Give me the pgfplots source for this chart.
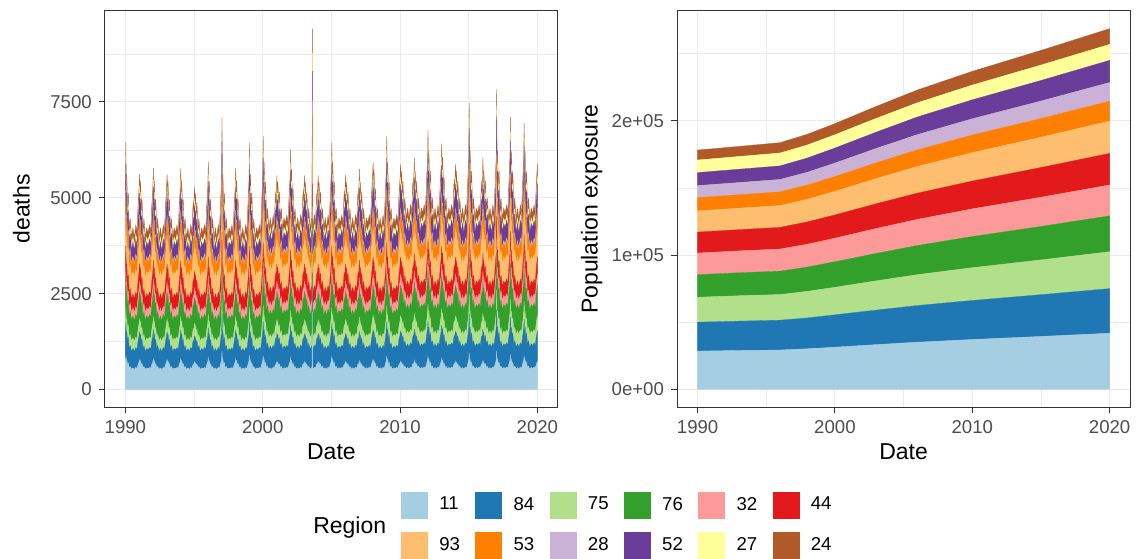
\documentclass[border=0pt]{standalone}
\usepackage{fontspec}
\setmainfont{Liberation Sans}
\usepackage{pgfplots}
\usepackage{pgfplotstable}
\pgfplotsset{compat=1.18}
\definecolor{c11}{HTML}{A6CEE3}
\definecolor{c84}{HTML}{1F78B4}
\definecolor{c75}{HTML}{B2DF8A}
\definecolor{c76}{HTML}{33A02C}
\definecolor{c32}{HTML}{FB9A99}
\definecolor{c44}{HTML}{E31A1C}
\definecolor{c93}{HTML}{FDBF6F}
\definecolor{c53}{HTML}{FF7F00}
\definecolor{c28}{HTML}{CAB2D6}
\definecolor{c52}{HTML}{6A3D9A}
\definecolor{c27}{HTML}{FFFF99}
\definecolor{c24}{HTML}{B15928}
\definecolor{gridc}{HTML}{EBEBEB}
\definecolor{tickgray}{HTML}{4D4D4D}
\definecolor{framec}{HTML}{333333}

\pgfplotstableread{
t a11 a84 a75 a76 a32 a44 a93 a53 a28 a52 a27 a24
1990.000 750 708 332 693 250 453 717 440 78 556 173 301
1990.035 900 870 377 792 280 522 825 530 90 697 212 352
1990.070 700 654 317 660 240 430 681 410 74 509 160 284
1990.100 775 735 340 710 255 465 735 455 80 580 180 310
1990.160 650 600 303 628 230 408 645 380 70 463 148 268
1990.210 700 654 317 660 240 430 681 410 74 509 160 284
1990.280 563 506 276 570 213 367 582 328 63 380 125 238
1990.350 600 546 288 595 220 385 609 350 66 416 135 251
1990.450 525 465 265 545 205 350 555 305 60 345 115 225
1990.550 563 506 276 570 213 367 582 328 63 380 125 238
1990.650 525 465 265 545 205 350 555 305 60 345 115 225
1990.760 575 519 280 578 215 373 591 335 64 392 128 242
1990.840 545 487 271 558 209 359 569 317 62 364 120 232
1990.920 650 600 303 628 230 408 645 380 70 463 148 268
1991.000 725 681 325 677 245 442 699 425 76 533 167 293
1991.035 775 735 340 710 255 465 735 455 80 580 180 310
1991.070 675 627 310 644 235 419 663 395 72 486 154 276
1991.100 750 708 332 693 250 453 717 440 78 556 173 301
1991.160 650 600 303 628 230 408 645 380 70 463 148 268
1991.210 675 627 310 644 235 419 663 395 72 486 154 276
1991.280 563 506 276 570 213 367 582 328 63 380 125 238
1991.350 600 546 288 595 220 385 609 350 66 416 135 251
1991.450 525 465 265 545 205 350 555 305 60 345 115 225
1991.550 563 506 276 570 213 367 582 328 63 380 125 238
1991.650 545 487 271 558 209 359 569 317 62 364 120 232
1991.760 575 519 280 578 215 373 591 335 64 392 128 242
1991.840 545 487 271 558 209 359 569 317 62 364 120 232
1991.920 650 600 303 628 230 408 645 380 70 463 148 268
1992.000 725 681 325 677 245 442 699 425 76 533 167 293
1992.035 800 762 347 726 260 476 753 470 82 603 186 318
1992.070 675 627 310 644 235 419 663 395 72 486 154 276
1992.100 750 708 332 693 250 453 717 440 78 556 173 301
1992.160 650 600 303 628 230 408 645 380 70 463 148 268
1992.210 675 627 310 644 235 419 663 395 72 486 154 276
1992.280 563 506 276 570 213 367 582 328 63 380 125 238
1992.350 600 546 288 595 220 385 609 350 66 416 135 251
1992.450 525 465 265 545 205 350 555 305 60 345 115 225
1992.550 563 506 276 570 213 367 582 328 63 380 125 238
1992.650 525 465 265 545 205 350 555 305 60 345 115 225
1992.760 575 519 280 578 215 373 591 335 64 392 128 242
1992.840 545 487 271 558 209 359 569 317 62 364 120 232
1992.920 650 600 303 628 230 408 645 380 70 463 148 268
1993.000 725 681 325 677 245 442 699 425 76 533 167 293
1993.035 775 735 340 710 255 465 735 455 80 580 180 310
1993.070 675 627 310 644 235 419 663 395 72 486 154 276
1993.100 750 708 332 693 250 453 717 440 78 556 173 301
1993.160 650 600 303 628 230 408 645 380 70 463 148 268
1993.210 675 627 310 644 235 419 663 395 72 486 154 276
1993.280 563 506 276 570 213 367 582 328 63 380 125 238
1993.350 600 546 288 595 220 385 609 350 66 416 135 251
1993.450 525 465 265 545 205 350 555 305 60 345 115 225
1993.550 563 506 276 570 213 367 582 328 63 380 125 238
1993.650 545 487 271 558 209 359 569 317 62 364 120 232
1993.760 575 519 280 578 215 373 591 335 64 392 128 242
1993.840 545 487 271 558 209 359 569 317 62 364 120 232
1993.920 650 600 303 628 230 408 645 380 70 463 148 268
1994.000 725 681 325 677 245 442 699 425 76 533 167 293
1994.035 800 762 347 726 260 476 753 470 82 603 186 318
1994.070 675 627 310 644 235 419 663 395 72 486 154 276
1994.100 750 708 332 693 250 453 717 440 78 556 173 301
1994.160 650 600 303 628 230 408 645 380 70 463 148 268
1994.210 675 627 310 644 235 419 663 395 72 486 154 276
1994.280 563 506 276 570 213 367 582 328 63 380 125 238
1994.350 600 546 288 595 220 385 609 350 66 416 135 251
1994.450 525 465 265 545 205 350 555 305 60 345 115 225
1994.550 563 506 276 570 213 367 582 328 63 380 125 238
1994.650 525 465 265 545 205 350 555 305 60 345 115 225
1994.760 575 519 280 578 215 373 591 335 64 392 128 242
1994.840 545 487 271 558 209 359 569 317 62 364 120 232
1994.920 650 600 303 628 230 408 645 380 70 463 148 268
1995.000 675 627 310 644 235 419 663 395 72 486 154 276
1995.035 725 681 325 677 245 442 699 425 76 533 167 293
1995.070 650 600 303 628 230 408 645 380 70 463 148 268
1995.100 700 654 317 660 240 430 681 410 74 509 160 284
1995.160 625 573 295 611 225 396 627 365 68 439 141 259
1995.210 662 613 306 636 232 413 654 387 71 474 151 272
1995.280 563 506 276 570 213 367 582 328 63 380 125 238
1995.350 600 546 288 595 220 385 609 350 66 416 135 251
1995.450 525 465 265 545 205 350 555 305 60 345 115 225
1995.550 563 506 276 570 213 367 582 328 63 380 125 238
1995.650 545 487 271 558 209 359 569 317 62 364 120 232
1995.760 575 519 280 578 215 373 591 335 64 392 128 242
1995.840 545 487 271 558 209 359 569 317 62 364 120 232
1995.920 650 600 303 628 230 408 645 380 70 463 148 268
1996.000 725 681 325 677 245 442 699 425 76 533 167 293
1996.035 825 789 355 743 265 488 771 485 84 627 193 327
1996.070 675 627 310 644 235 419 663 395 72 486 154 276
1996.100 750 708 332 693 250 453 717 440 78 556 173 301
1996.160 650 600 303 628 230 408 645 380 70 463 148 268
1996.210 675 627 310 644 235 419 663 395 72 486 154 276
1996.280 563 506 276 570 213 367 582 328 63 380 125 238
1996.350 600 546 288 595 220 385 609 350 66 416 135 251
1996.450 525 465 265 545 205 350 555 305 60 345 115 225
1996.550 563 506 276 570 213 367 582 328 63 380 125 238
1996.650 525 465 265 545 205 350 555 305 60 345 115 225
1996.760 575 519 280 578 215 373 591 335 64 392 128 242
1996.840 545 487 271 558 209 359 569 317 62 364 120 232
1996.920 650 600 303 628 230 408 645 380 70 463 148 268
1997.000 750 708 332 693 250 453 717 440 78 556 173 301
1997.035 1000 978 407 858 300 568 897 590 98 791 238 386
1997.070 700 654 317 660 240 430 681 410 74 509 160 284
1997.100 775 735 340 710 255 465 735 455 80 580 180 310
1997.160 650 600 303 628 230 408 645 380 70 463 148 268
1997.210 700 654 317 660 240 430 681 410 74 509 160 284
1997.280 563 506 276 570 213 367 582 328 63 380 125 238
1997.350 600 546 288 595 220 385 609 350 66 416 135 251
1997.450 525 465 265 545 205 350 555 305 60 345 115 225
1997.550 563 506 276 570 213 367 582 328 63 380 125 238
1997.650 545 487 271 558 209 359 569 317 62 364 120 232
1997.760 575 519 280 578 215 373 591 335 64 392 128 242
1997.840 545 487 271 558 209 359 569 317 62 364 120 232
1997.920 650 600 303 628 230 408 645 380 70 463 148 268
1998.000 725 681 325 677 245 442 699 425 76 533 167 293
1998.035 800 762 347 726 260 476 753 470 82 603 186 318
1998.070 675 627 310 644 235 419 663 395 72 486 154 276
1998.100 750 708 332 693 250 453 717 440 78 556 173 301
1998.160 650 600 303 628 230 408 645 380 70 463 148 268
1998.210 675 627 310 644 235 419 663 395 72 486 154 276
1998.280 563 506 276 570 213 367 582 328 63 380 125 238
1998.350 600 546 288 595 220 385 609 350 66 416 135 251
1998.450 525 465 265 545 205 350 555 305 60 345 115 225
1998.550 563 506 276 570 213 367 582 328 63 380 125 238
1998.650 525 465 265 545 205 350 555 305 60 345 115 225
1998.760 575 519 280 578 215 373 591 335 64 392 128 242
1998.840 545 487 271 558 209 359 569 317 62 364 120 232
1998.920 650 600 303 628 230 408 645 380 70 463 148 268
1999.000 750 708 332 693 250 453 717 440 78 556 173 301
1999.035 900 870 377 792 280 522 825 530 90 697 212 352
1999.070 700 654 317 660 240 430 681 410 74 509 160 284
1999.100 775 735 340 710 255 465 735 455 80 580 180 310
1999.160 650 600 303 628 230 408 645 380 70 463 148 268
1999.210 700 654 317 660 240 430 681 410 74 509 160 284
1999.280 563 506 276 570 213 367 582 328 63 380 125 238
1999.350 600 546 288 595 220 385 609 350 66 416 135 251
1999.450 525 465 265 545 205 350 555 305 60 345 115 225
1999.550 563 506 276 570 213 367 582 328 63 380 125 238
1999.650 545 487 271 558 209 359 569 317 62 364 120 232
1999.760 575 519 280 578 215 373 591 335 64 392 128 242
1999.840 545 487 271 558 209 359 569 317 62 364 120 232
1999.920 650 600 303 628 230 408 645 380 70 463 148 268
2000.000 755 763 372 758 270 454 742 450 83 609 183 316
2000.035 880 898 414 845 297 509 832 525 93 739 218 361
2000.070 705 709 355 723 259 432 706 420 79 557 169 298
2000.100 780 790 380 775 275 465 760 465 85 635 190 325
2000.160 655 655 338 688 248 410 670 390 75 505 155 280
2000.210 705 709 355 723 259 432 706 420 79 557 169 298
2000.280 568 561 308 626 228 372 607 338 68 414 131 249
2000.350 605 601 321 653 237 388 634 360 71 453 141 262
2000.450 530 520 295 600 220 355 580 315 65 375 120 235
2000.550 568 561 308 626 228 372 607 338 68 414 131 249
2000.650 530 520 295 600 220 355 580 315 65 375 120 235
2000.760 580 574 312 635 231 377 616 345 69 427 134 253
2000.840 550 542 302 614 224 364 594 327 67 396 126 242
2000.920 655 655 338 688 248 410 670 390 75 505 155 280
2001.000 680 682 346 705 253 421 688 405 77 531 162 289
2001.035 730 736 363 740 264 443 724 435 81 583 176 307
2001.070 655 655 338 688 248 410 670 390 75 505 155 280
2001.100 705 709 355 723 259 432 706 420 79 557 169 298
2001.160 630 628 329 670 242 399 652 375 73 479 148 271
2001.210 668 669 342 696 250 416 679 398 76 518 159 285
2001.280 568 561 308 626 228 372 607 338 68 414 131 249
2001.350 605 601 321 653 237 388 634 360 71 453 141 262
2001.450 530 520 295 600 220 355 580 315 65 375 120 235
2001.550 568 561 308 626 228 372 607 338 68 414 131 249
2001.650 550 542 302 614 224 364 594 327 67 396 126 242
2001.760 580 574 312 635 231 377 616 345 69 427 134 253
2001.840 550 542 302 614 224 364 594 327 67 396 126 242
2001.920 655 655 338 688 248 410 670 390 75 505 155 280
2002.000 730 736 363 740 264 443 724 435 81 583 176 307
2002.035 830 844 397 810 286 487 796 495 89 687 204 343
2002.070 680 682 346 705 253 421 688 405 77 531 162 289
2002.100 755 763 372 758 270 454 742 450 83 609 183 316
2002.160 655 655 338 688 248 410 670 390 75 505 155 280
2002.210 680 682 346 705 253 421 688 405 77 531 162 289
2002.280 568 561 308 626 228 372 607 338 68 414 131 249
2002.350 605 601 321 653 237 388 634 360 71 453 141 262
2002.450 530 520 295 600 220 355 580 315 65 375 120 235
2002.550 568 561 308 626 228 372 607 338 68 414 131 249
2002.650 530 520 295 600 220 355 580 315 65 375 120 235
2002.760 580 574 312 635 231 377 616 345 69 427 134 253
2002.840 550 542 302 614 224 364 594 327 67 396 126 242
2002.920 655 655 338 688 248 410 670 390 75 505 155 280
2003.000 680 682 346 705 253 421 688 405 77 531 162 289
2003.035 730 736 363 740 264 443 724 435 81 583 176 307
2003.070 655 655 338 688 248 410 670 390 75 505 155 280
2003.100 705 709 355 723 259 432 706 420 79 557 169 298
2003.160 630 628 329 670 242 399 652 375 73 479 148 271
2003.210 668 669 342 696 250 416 679 398 76 518 159 285
2003.280 568 561 308 626 228 372 607 338 68 414 131 249
2003.350 605 601 321 653 237 388 634 360 71 453 141 262
2003.450 530 520 295 600 220 355 580 315 65 375 120 235
2003.550 568 561 308 626 228 372 607 338 68 414 131 249
2003.585 530 520 295 600 220 355 580 315 65 375 120 235
2003.615 2030 1020 495 900 320 605 880 915 365 775 470 635
2003.645 530 520 295 600 220 355 580 315 65 375 120 235
2003.760 580 574 312 635 231 377 616 345 69 427 134 253
2003.840 550 542 302 614 224 364 594 327 67 396 126 242
2003.920 655 655 338 688 248 410 670 390 75 505 155 280
2004.000 680 682 346 705 253 421 688 405 77 531 162 289
2004.035 730 736 363 740 264 443 724 435 81 583 176 307
2004.070 655 655 338 688 248 410 670 390 75 505 155 280
2004.100 705 709 355 723 259 432 706 420 79 557 169 298
2004.160 630 628 329 670 242 399 652 375 73 479 148 271
2004.210 668 669 342 696 250 416 679 398 76 518 159 285
2004.280 568 561 308 626 228 372 607 338 68 414 131 249
2004.350 605 601 321 653 237 388 634 360 71 453 141 262
2004.450 530 520 295 600 220 355 580 315 65 375 120 235
2004.550 568 561 308 626 228 372 607 338 68 414 131 249
2004.650 530 520 295 600 220 355 580 315 65 375 120 235
2004.760 580 574 312 635 231 377 616 345 69 427 134 253
2004.840 550 542 302 614 224 364 594 327 67 396 126 242
2004.920 655 655 338 688 248 410 670 390 75 505 155 280
2005.000 755 763 372 758 270 454 742 450 83 609 183 316
2005.035 855 871 406 828 292 498 814 510 91 713 211 352
2005.070 705 709 355 723 259 432 706 420 79 557 169 298
2005.100 780 790 380 775 275 465 760 465 85 635 190 325
2005.160 655 655 338 688 248 410 670 390 75 505 155 280
2005.210 705 709 355 723 259 432 706 420 79 557 169 298
2005.280 568 561 308 626 228 372 607 338 68 414 131 249
2005.350 605 601 321 653 237 388 634 360 71 453 141 262
2005.450 530 520 295 600 220 355 580 315 65 375 120 235
2005.550 568 561 308 626 228 372 607 338 68 414 131 249
2005.650 550 542 302 614 224 364 594 327 67 396 126 242
2005.760 580 574 312 635 231 377 616 345 69 427 134 253
2005.840 550 542 302 614 224 364 594 327 67 396 126 242
2005.920 655 655 338 688 248 410 670 390 75 505 155 280
2006.000 680 682 346 705 253 421 688 405 77 531 162 289
2006.035 730 736 363 740 264 443 724 435 81 583 176 307
2006.070 655 655 338 688 248 410 670 390 75 505 155 280
2006.100 705 709 355 723 259 432 706 420 79 557 169 298
2006.160 630 628 329 670 242 399 652 375 73 479 148 271
2006.210 668 669 342 696 250 416 679 398 76 518 159 285
2006.280 568 561 308 626 228 372 607 338 68 414 131 249
2006.350 605 601 321 653 237 388 634 360 71 453 141 262
2006.450 530 520 295 600 220 355 580 315 65 375 120 235
2006.550 568 561 308 626 228 372 607 338 68 414 131 249
2006.650 530 520 295 600 220 355 580 315 65 375 120 235
2006.760 580 574 312 635 231 377 616 345 69 427 134 253
2006.840 550 542 302 614 224 364 594 327 67 396 126 242
2006.920 655 655 338 688 248 410 670 390 75 505 155 280
2007.000 680 682 346 705 253 421 688 405 77 531 162 289
2007.035 755 763 372 758 270 454 742 450 83 609 183 316
2007.070 655 655 338 688 248 410 670 390 75 505 155 280
2007.100 705 709 355 723 259 432 706 420 79 557 169 298
2007.160 630 628 329 670 242 399 652 375 73 479 148 271
2007.210 668 669 342 696 250 416 679 398 76 518 159 285
2007.280 568 561 308 626 228 372 607 338 68 414 131 249
2007.350 605 601 321 653 237 388 634 360 71 453 141 262
2007.450 530 520 295 600 220 355 580 315 65 375 120 235
2007.550 568 561 308 626 228 372 607 338 68 414 131 249
2007.650 550 542 302 614 224 364 594 327 67 396 126 242
2007.760 580 574 312 635 231 377 616 345 69 427 134 253
2007.840 550 542 302 614 224 364 594 327 67 396 126 242
2007.920 655 655 338 688 248 410 670 390 75 505 155 280
2008.000 730 736 363 740 264 443 724 435 81 583 176 307
2008.035 780 790 380 775 275 465 760 465 85 635 190 325
2008.070 680 682 346 705 253 421 688 405 77 531 162 289
2008.100 755 763 372 758 270 454 742 450 83 609 183 316
2008.160 655 655 338 688 248 410 670 390 75 505 155 280
2008.210 680 682 346 705 253 421 688 405 77 531 162 289
2008.280 568 561 308 626 228 372 607 338 68 414 131 249
2008.350 605 601 321 653 237 388 634 360 71 453 141 262
2008.450 530 520 295 600 220 355 580 315 65 375 120 235
2008.550 568 561 308 626 228 372 607 338 68 414 131 249
2008.650 530 520 295 600 220 355 580 315 65 375 120 235
2008.760 580 574 312 635 231 377 616 345 69 427 134 253
2008.840 550 542 302 614 224 364 594 327 67 396 126 242
2008.920 655 655 338 688 248 410 670 390 75 505 155 280
2009.000 755 763 372 758 270 454 742 450 83 609 183 316
2009.035 880 898 414 845 297 509 832 525 93 739 218 361
2009.070 705 709 355 723 259 432 706 420 79 557 169 298
2009.100 780 790 380 775 275 465 760 465 85 635 190 325
2009.160 655 655 338 688 248 410 670 390 75 505 155 280
2009.210 705 709 355 723 259 432 706 420 79 557 169 298
2009.280 568 561 308 626 228 372 607 338 68 414 131 249
2009.350 605 601 321 653 237 388 634 360 71 453 141 262
2009.450 530 520 295 600 220 355 580 315 65 375 120 235
2009.550 568 561 308 626 228 372 607 338 68 414 131 249
2009.650 550 542 302 614 224 364 594 327 67 396 126 242
2009.760 580 574 312 635 231 377 616 345 69 427 134 253
2009.840 550 542 302 614 224 364 594 327 67 396 126 242
2009.920 655 655 338 688 248 410 670 390 75 505 155 280
2010.000 685 737 382 766 271 423 713 415 82 576 170 302
2010.035 735 791 401 803 283 444 749 445 86 633 185 321
2010.070 660 710 373 748 265 413 695 400 80 548 163 293
2010.100 710 764 392 785 277 434 731 430 84 605 178 312
2010.160 635 683 363 729 259 402 677 385 78 519 155 283
2010.210 673 724 377 757 268 418 704 408 81 562 166 297
2010.280 573 616 339 683 244 376 632 348 73 448 136 259
2010.350 610 656 354 711 253 392 659 370 76 491 148 274
2010.450 535 575 325 655 235 360 605 325 70 405 125 245
2010.550 573 616 339 683 244 376 632 348 73 448 136 259
2010.650 535 575 325 655 235 360 605 325 70 405 125 245
2010.760 585 629 344 692 247 381 641 355 74 462 140 264
2010.840 555 597 333 670 240 368 619 337 72 428 131 253
2010.920 660 710 373 748 265 413 695 400 80 548 163 293
2011.000 685 737 382 766 271 423 713 415 82 576 170 302
2011.035 760 818 411 822 289 455 767 460 88 662 193 331
2011.070 660 710 373 748 265 413 695 400 80 548 163 293
2011.100 710 764 392 785 277 434 731 430 84 605 178 312
2011.160 635 683 363 729 259 402 677 385 78 519 155 283
2011.210 673 724 377 757 268 418 704 408 81 562 166 297
2011.280 573 616 339 683 244 376 632 348 73 448 136 259
2011.350 610 656 354 711 253 392 659 370 76 491 148 274
2011.450 535 575 325 655 235 360 605 325 70 405 125 245
2011.550 573 616 339 683 244 376 632 348 73 448 136 259
2011.650 555 597 333 670 240 368 619 337 72 428 131 253
2011.760 585 629 344 692 247 381 641 355 74 462 140 264
2011.840 555 597 333 670 240 368 619 337 72 428 131 253
2011.920 660 710 373 748 265 413 695 400 80 548 163 293
2012.000 760 818 411 822 289 455 767 460 88 662 193 331
2012.035 860 926 449 896 313 497 839 520 96 776 223 369
2012.070 710 764 392 785 277 434 731 430 84 605 178 312
2012.100 785 845 420 840 295 465 785 475 90 690 200 340
2012.160 660 710 373 748 265 413 695 400 80 548 163 293
2012.210 710 764 392 785 277 434 731 430 84 605 178 312
2012.280 573 616 339 683 244 376 632 348 73 448 136 259
2012.350 610 656 354 711 253 392 659 370 76 491 148 274
2012.450 535 575 325 655 235 360 605 325 70 405 125 245
2012.550 573 616 339 683 244 376 632 348 73 448 136 259
2012.650 535 575 325 655 235 360 605 325 70 405 125 245
2012.760 585 629 344 692 247 381 641 355 74 462 140 264
2012.840 555 597 333 670 240 368 619 337 72 428 131 253
2012.920 660 710 373 748 265 413 695 400 80 548 163 293
2013.000 735 791 401 803 283 444 749 445 86 633 185 321
2013.035 810 872 430 859 301 476 803 490 92 719 208 350
2013.070 685 737 382 766 271 423 713 415 82 576 170 302
2013.100 760 818 411 822 289 455 767 460 88 662 193 331
2013.160 660 710 373 748 265 413 695 400 80 548 163 293
2013.210 685 737 382 766 271 423 713 415 82 576 170 302
2013.280 573 616 339 683 244 376 632 348 73 448 136 259
2013.350 610 656 354 711 253 392 659 370 76 491 148 274
2013.450 535 575 325 655 235 360 605 325 70 405 125 245
2013.550 573 616 339 683 244 376 632 348 73 448 136 259
2013.650 555 597 333 670 240 368 619 337 72 428 131 253
2013.760 585 629 344 692 247 381 641 355 74 462 140 264
2013.840 555 597 333 670 240 368 619 337 72 428 131 253
2013.920 660 710 373 748 265 413 695 400 80 548 163 293
2014.000 685 737 382 766 271 423 713 415 82 576 170 302
2014.035 735 791 401 803 283 444 749 445 86 633 185 321
2014.070 660 710 373 748 265 413 695 400 80 548 163 293
2014.100 710 764 392 785 277 434 731 430 84 605 178 312
2014.160 635 683 363 729 259 402 677 385 78 519 155 283
2014.210 673 724 377 757 268 418 704 408 81 562 166 297
2014.280 573 616 339 683 244 376 632 348 73 448 136 259
2014.350 610 656 354 711 253 392 659 370 76 491 148 274
2014.450 535 575 325 655 235 360 605 325 70 405 125 245
2014.550 573 616 339 683 244 376 632 348 73 448 136 259
2014.650 535 575 325 655 235 360 605 325 70 405 125 245
2014.760 585 629 344 692 247 381 641 355 74 462 140 264
2014.840 555 597 333 670 240 368 619 337 72 428 131 253
2014.920 660 710 373 748 265 413 695 400 80 548 163 293
2015.000 760 818 411 822 289 455 767 460 88 662 193 331
2015.035 960 1034 487 970 337 539 911 580 104 890 253 407
2015.070 710 764 392 785 277 434 731 430 84 605 178 312
2015.100 785 845 420 840 295 465 785 475 90 690 200 340
2015.160 660 710 373 748 265 413 695 400 80 548 163 293
2015.210 710 764 392 785 277 434 731 430 84 605 178 312
2015.280 573 616 339 683 244 376 632 348 73 448 136 259
2015.350 610 656 354 711 253 392 659 370 76 491 148 274
2015.450 535 575 325 655 235 360 605 325 70 405 125 245
2015.550 573 616 339 683 244 376 632 348 73 448 136 259
2015.650 555 597 333 670 240 368 619 337 72 428 131 253
2015.760 585 629 344 692 247 381 641 355 74 462 140 264
2015.840 555 597 333 670 240 368 619 337 72 428 131 253
2015.920 660 710 373 748 265 413 695 400 80 548 163 293
2016.000 685 737 382 766 271 423 713 415 82 576 170 302
2016.035 760 818 411 822 289 455 767 460 88 662 193 331
2016.070 660 710 373 748 265 413 695 400 80 548 163 293
2016.100 710 764 392 785 277 434 731 430 84 605 178 312
2016.160 635 683 363 729 259 402 677 385 78 519 155 283
2016.210 673 724 377 757 268 418 704 408 81 562 166 297
2016.280 573 616 339 683 244 376 632 348 73 448 136 259
2016.350 610 656 354 711 253 392 659 370 76 491 148 274
2016.450 535 575 325 655 235 360 605 325 70 405 125 245
2016.550 573 616 339 683 244 376 632 348 73 448 136 259
2016.650 535 575 325 655 235 360 605 325 70 405 125 245
2016.760 585 629 344 692 247 381 641 355 74 462 140 264
2016.840 555 597 333 670 240 368 619 337 72 428 131 253
2016.920 660 710 373 748 265 413 695 400 80 548 163 293
2017.000 760 818 411 822 289 455 767 460 88 662 193 331
2017.035 1010 1088 506 1007 349 560 947 610 108 947 268 426
2017.070 710 764 392 785 277 434 731 430 84 605 178 312
2017.100 785 845 420 840 295 465 785 475 90 690 200 340
2017.160 660 710 373 748 265 413 695 400 80 548 163 293
2017.210 710 764 392 785 277 434 731 430 84 605 178 312
2017.280 573 616 339 683 244 376 632 348 73 448 136 259
2017.350 610 656 354 711 253 392 659 370 76 491 148 274
2017.450 535 575 325 655 235 360 605 325 70 405 125 245
2017.550 573 616 339 683 244 376 632 348 73 448 136 259
2017.650 555 597 333 670 240 368 619 337 72 428 131 253
2017.760 585 629 344 692 247 381 641 355 74 462 140 264
2017.840 555 597 333 670 240 368 619 337 72 428 131 253
2017.920 660 710 373 748 265 413 695 400 80 548 163 293
2018.000 760 818 411 822 289 455 767 460 88 662 193 331
2018.035 910 980 468 933 325 518 875 550 100 833 238 388
2018.070 710 764 392 785 277 434 731 430 84 605 178 312
2018.100 785 845 420 840 295 465 785 475 90 690 200 340
2018.160 660 710 373 748 265 413 695 400 80 548 163 293
2018.210 710 764 392 785 277 434 731 430 84 605 178 312
2018.280 573 616 339 683 244 376 632 348 73 448 136 259
2018.350 610 656 354 711 253 392 659 370 76 491 148 274
2018.450 535 575 325 655 235 360 605 325 70 405 125 245
2018.550 573 616 339 683 244 376 632 348 73 448 136 259
2018.650 535 575 325 655 235 360 605 325 70 405 125 245
2018.760 585 629 344 692 247 381 641 355 74 462 140 264
2018.840 555 597 333 670 240 368 619 337 72 428 131 253
2018.920 660 710 373 748 265 413 695 400 80 548 163 293
2019.000 760 818 411 822 289 455 767 460 88 662 193 331
2019.035 885 953 458 914 319 507 857 535 98 804 230 378
2019.070 710 764 392 785 277 434 731 430 84 605 178 312
2019.100 785 845 420 840 295 465 785 475 90 690 200 340
2019.160 660 710 373 748 265 413 695 400 80 548 163 293
2019.210 710 764 392 785 277 434 731 430 84 605 178 312
2019.280 573 616 339 683 244 376 632 348 73 448 136 259
2019.350 610 656 354 711 253 392 659 370 76 491 148 274
2019.450 535 575 325 655 235 360 605 325 70 405 125 245
2019.550 573 616 339 683 244 376 632 348 73 448 136 259
2019.650 555 597 333 670 240 368 619 337 72 428 131 253
2019.760 585 629 344 692 247 381 641 355 74 462 140 264
2019.840 555 597 333 670 240 368 619 337 72 428 131 253
2019.920 660 710 373 748 265 413 695 400 80 548 163 293
2020.000 735 791 401 803 283 444 749 445 86 633 185 321
}\deaths

\pgfplotstableread{
t a11 a84 a75 a76 a32 a44 a93 a53 a28 a52 a27 a24
1990 28500 21500 18600 16800 16100 15600 15800 9900 8900 9700 9400 7400
1993 28900 21900 18900 17100 16300 15800 16000 10000 9100 9900 9500 7500
1996 29300 22200 19100 17400 16500 16100 16300 10200 9200 10100 9600 7700
1998 30200 23000 19800 18100 17000 16600 16900 10500 9600 10600 9700 8000
2000 31400 24100 20500 19000 17600 17300 17600 11000 10000 11200 9900 8300
2003 33300 25700 21800 20400 18600 18400 18800 11700 10700 12100 10300 8900
2006 35100 27300 23000 21700 19500 19500 19900 12300 11400 13100 10600 9500
2010 37100 29100 24400 23200 20600 20700 21200 13100 12100 14100 11000 10200
2015 39400 31100 25900 24900 21800 22100 22600 13900 13000 15300 11500 10900
2020 41800 33200 27500 26700 23000 23500 24100 14800 13900 16500 11900 11700
}\expo

\pgfplotsset{
  common/.style={
    scale only axis, height=198.33pt, width=226.6pt,
    xmin=1988.5, xmax=2021.5,
    xtick={1990,2000,2010,2020}, minor xtick={1995,2005,2015},
    xtick pos=bottom, ytick pos=left,
    grid=both,
    major grid style={color=gridc, line width=0.55pt},
    minor grid style={color=gridc, line width=0.28pt},
    tick align=outside, major tick length=3pt, minor tick length=0pt,
    major tick style={color=framec, line width=0.5pt},
    axis line style={color=framec, line width=0.5pt},
    tick label style={font=\fontsize{9.3}{11}\selectfont, color=tickgray},
    label style={font=\fontsize{11.5}{13}\selectfont},
    /pgf/number format/1000 sep={},
    /pgf/number format/assume math mode=true,
    scaled ticks=false,
    stack plots=y,
    xlabel={Date},
    xlabel style={at={(axis description cs:0.5,-0.1126)}, anchor=center},
  },
  lay/.style={fill=#1, draw=#1, line width=0.15pt},
}

\begin{document}
\begin{tikzpicture}
\useasboundingbox (0,0) rectangle (568pt,279pt);
\begin{axis}[common, at={(52.4pt,75.33pt)}, anchor=south west,
  ymin=-465, ymax=9880,
  ytick={0,2500,5000,7500}, minor ytick={1250,3750,6250,8750},
  ylabel={deaths},
  ylabel style={at={(axis description cs:-0.184,0.5)}, anchor=center},
  legend columns=6,
  legend cell align=left,
  legend image code/.code={\fill[#1] (0pt,-6.425pt) rectangle (13pt,6.425pt);},
  legend style={at={(axis description cs:0.6536,-0.2135)}, anchor=north west,
    draw=none, fill=none, inner sep=0pt, outer sep=0pt,
    font=\fontsize{9.3}{11}\selectfont, row sep=7.15pt,
    nodes={inner sep=0pt, outer sep=0pt},
    /tikz/every odd column/.append style={column sep=6pt},
    /tikz/every even column/.append style={column sep=7.66pt}},
]
\addplot[lay=c11] table[x=t,y=a11]{\deaths} \closedcycle; \addlegendentry{11}
\addplot[lay=c84] table[x=t,y=a84]{\deaths} \closedcycle; \addlegendentry{84}
\addplot[lay=c75] table[x=t,y=a75]{\deaths} \closedcycle; \addlegendentry{75}
\addplot[lay=c76] table[x=t,y=a76]{\deaths} \closedcycle; \addlegendentry{76}
\addplot[lay=c32] table[x=t,y=a32]{\deaths} \closedcycle; \addlegendentry{32}
\addplot[lay=c44] table[x=t,y=a44]{\deaths} \closedcycle; \addlegendentry{44}
\addplot[lay=c93] table[x=t,y=a93]{\deaths} \closedcycle; \addlegendentry{93}
\addplot[lay=c53] table[x=t,y=a53]{\deaths} \closedcycle; \addlegendentry{53}
\addplot[lay=c28] table[x=t,y=a28]{\deaths} \closedcycle; \addlegendentry{28}
\addplot[lay=c52] table[x=t,y=a52]{\deaths} \closedcycle; \addlegendentry{52}
\addplot[lay=c27] table[x=t,y=a27]{\deaths} \closedcycle; \addlegendentry{27}
\addplot[lay=c24] table[x=t,y=a24]{\deaths} \closedcycle; \addlegendentry{24}
\end{axis}
\begin{axis}[common, at={(338.5pt,75.33pt)}, anchor=south west,
  ymin=-13400, ymax=282000,
  ytick={0,100000,200000}, yticklabels={0e+00,1e+05,2e+05},
  minor ytick={50000,150000,250000},
  ylabel={Population exposure},
  ylabel style={at={(axis description cs:-0.1884,0.5)}, anchor=center},
]
\addplot[lay=c11] table[x=t,y=a11]{\expo} \closedcycle;
\addplot[lay=c84] table[x=t,y=a84]{\expo} \closedcycle;
\addplot[lay=c75] table[x=t,y=a75]{\expo} \closedcycle;
\addplot[lay=c76] table[x=t,y=a76]{\expo} \closedcycle;
\addplot[lay=c32] table[x=t,y=a32]{\expo} \closedcycle;
\addplot[lay=c44] table[x=t,y=a44]{\expo} \closedcycle;
\addplot[lay=c93] table[x=t,y=a93]{\expo} \closedcycle;
\addplot[lay=c53] table[x=t,y=a53]{\expo} \closedcycle;
\addplot[lay=c28] table[x=t,y=a28]{\expo} \closedcycle;
\addplot[lay=c52] table[x=t,y=a52]{\expo} \closedcycle;
\addplot[lay=c27] table[x=t,y=a27]{\expo} \closedcycle;
\addplot[lay=c24] table[x=t,y=a24]{\expo} \closedcycle;
\end{axis}
\node[font=\fontsize{11.5}{13}\selectfont, anchor=center] at (174.85pt,15.25pt) {Region};
\end{tikzpicture}
\end{document}
